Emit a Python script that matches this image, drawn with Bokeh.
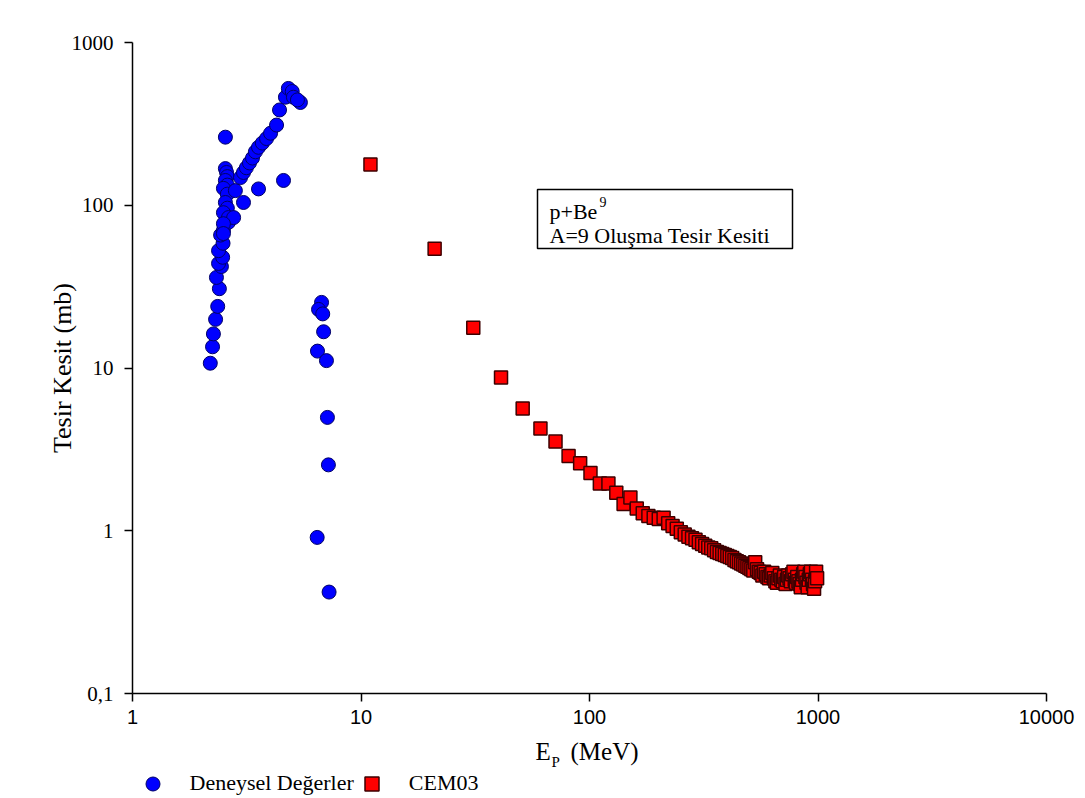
from bokeh.plotting import figure
from bokeh.layouts import column
from bokeh.models import (Range1d, FixedTicker, CustomJSTickFormatter, Label,
                          BoxAnnotation, Legend, LegendItem)
from bokeh.embed import file_html
from bokeh.resources import INLINE

# ---------------- data ----------------
exp_energy = [2.19, 2.24, 2.26, 2.31, 2.36, 2.40, 2.33, 2.45, 2.38, 2.48, 2.38, 2.49, 2.43, 2.50, 2.63,
              2.55, 2.55, 2.58, 2.60, 2.55, 2.60, 2.50, 2.60, 2.82, 2.55, 2.60, 2.50, 2.63, 2.77, 2.50, 2.50,
              3.06, 3.56, 4.58,
              2.97, 3.06, 3.15, 3.25, 3.35, 3.45, 3.56, 3.70, 3.86, 4.02, 4.27,
              4.40, 4.67, 4.81, 5.00, 5.06, 5.43, 5.27,
              6.72, 6.52, 6.80, 6.86, 6.45, 7.06, 7.13, 7.20, 6.43, 7.25]
exp_xs = [10.7, 13.5, 16.2, 19.9, 23.9, 30.7, 36.0, 42.0, 43.9, 47.9, 52.6, 58.4, 65.6, 70.0, 78.6,
          262, 168, 159, 150, 142, 133, 127, 117, 123, 104, 96, 90, 84, 84, 77, 67,
          104, 126, 142,
          148, 159, 170, 182, 195, 213, 227, 241, 257, 277, 311,
          385, 461, 522, 500, 461, 428, 444,
          25.3, 22.9, 21.5, 16.7, 12.7, 11.1, 4.97, 2.54, 0.91, 0.42]

cem_energy = [11, 21, 31, 41, 51, 61, 71, 81, 91, 101,
              111, 121, 131, 141, 151, 161, 171, 181, 191, 201,
              211, 221, 231, 241, 251, 261, 271, 281, 291, 301,
              311, 321, 331, 341, 351, 361, 371, 381, 391, 401,
              411, 421, 431, 441, 451, 461, 471, 481, 491, 501,
              511, 521, 531, 541, 551, 561, 571, 581, 591, 601,
              611, 621, 631, 641, 651, 661, 671, 681, 691, 701,
              711, 721, 731, 741, 751, 761, 771, 781, 791, 801,
              811, 821, 831, 841, 851, 861, 871, 881, 891, 901,
              911, 921, 931, 941, 951, 961, 971, 981, 991]
cem_xs = [178, 54, 17.7, 8.75, 5.64, 4.25, 3.53, 2.88, 2.60, 2.26,
          1.95, 1.95, 1.71, 1.46, 1.60, 1.37, 1.28, 1.23, 1.20, 1.18,
          1.20, 1.11, 1.07, 1.03, 0.98, 0.95, 0.92, 0.90, 0.88, 0.85,
          0.83, 0.81, 0.79, 0.78, 0.76, 0.74, 0.73, 0.72, 0.71, 0.70,
          0.69, 0.68, 0.66, 0.65, 0.64, 0.63, 0.62, 0.61, 0.60, 0.59,
          0.58, 0.57, 0.64, 0.58, 0.56, 0.55, 0.53, 0.56, 0.54, 0.52,
          0.51, 0.53, 0.55, 0.51, 0.49, 0.48, 0.51, 0.53, 0.50, 0.49,
          0.52, 0.47, 0.50, 0.53, 0.51, 0.49, 0.54, 0.56, 0.50, 0.48,
          0.52, 0.49, 0.47, 0.45, 0.50, 0.54, 0.56, 0.52, 0.48, 0.45,
          0.50, 0.54, 0.56, 0.50, 0.47, 0.44, 0.49, 0.56, 0.51]

x_ticks = [1, 10, 100, 1000, 10000]
y_ticks = [0.1, 1, 10, 100, 1000]
series_names = ["Deneysel Değerler", "CEM03"]
y_title = "Tesir Kesit (mb)"
x_title_main, x_title_sub, x_title_unit = "E", "P", "(MeV)"
box_line1, box_sup, box_line2 = "p+Be", "9", "A=9 Oluşma Tesir Kesiti"

# ---------------- layout ----------------
W = 1085
H1, H2 = 734, 64
FL, FT, FW, FH = 132, 42, 914, 651
serif = "Liberation Serif"
blue_style = dict(marker="circle", size=14, fill_color="#0000ff", line_color="#000066", line_width=1)
red_style = dict(marker="square", size=13, fill_color="#ff0000", line_color="#3d0000", line_width=1.5)


def px2x(px):
    return 10 ** ((px - FL) / FW * 4)


def py2y(py):
    return 10 ** (3 - (py - FT) / FH * 4)


p = figure(width=W, height=H1, x_axis_type="log", y_axis_type="log",
           x_range=Range1d(1, 10000), y_range=Range1d(0.1, 1000),
           output_backend="svg", toolbar_location=None,
           min_border_left=FL, min_border_right=W - FL - FW,
           min_border_top=FT, min_border_bottom=H1 - FT - FH)
p.outline_line_color = None
p.xgrid.visible = False
p.ygrid.visible = False
p.background_fill_color = "white"
p.border_fill_color = "white"

fmt = CustomJSTickFormatter(code="return tick < 1 ? tick.toFixed(1).replace('.', ',') : tick.toFixed(0);")

xa = p.xaxis[0]
xa.ticker = FixedTicker(ticks=x_ticks, minor_ticks=[])
xa.formatter = fmt
xa.axis_line_width = 1.5
xa.major_tick_line_width = 1.5
xa.major_tick_out = 8
xa.major_tick_in = 0
xa.major_label_standoff = 8
xa.major_label_text_font = "Liberation Sans"
xa.major_label_text_font_size = "20px"
xa.major_label_text_color = "black"

ya = p.yaxis[0]
ya.ticker = FixedTicker(ticks=y_ticks, minor_ticks=[])
ya.formatter = fmt
ya.axis_line_width = 1.5
ya.major_tick_line_width = 1.5
ya.major_tick_out = 8
ya.major_tick_in = 0
ya.major_label_standoff = 11
ya.major_label_text_font = serif
ya.major_label_text_font_size = "21px"
ya.major_label_text_color = "black"
ya.axis_label = y_title
ya.axis_label_text_font = serif
ya.axis_label_text_font_size = "26px"
ya.axis_label_text_font_style = "normal"
ya.axis_label_text_color = "black"
ya.axis_label_standoff = -8

r1 = p.scatter(exp_energy, exp_xs, **blue_style)
r2 = p.scatter(cem_energy, cem_xs, **red_style)

# annotation box
p.add_layout(BoxAnnotation(left=px2x(537), right=px2x(792), top=py2y(189), bottom=py2y(248),
                           fill_color="white", fill_alpha=1, line_color="black",
                           line_alpha=1, line_width=1.5))
p.add_layout(Label(x=px2x(549), y=py2y(211), text=box_line1, text_font=serif,
                   text_font_size="22px", text_baseline="middle", text_color="black"))
p.add_layout(Label(x=px2x(599), y=py2y(201), text=box_sup, text_font=serif,
                   text_font_size="14px", text_baseline="middle", text_color="black"))
p.add_layout(Label(x=px2x(549), y=py2y(235), text=box_line2, text_font=serif,
                   text_font_size="22px", text_baseline="middle", text_color="black"))

# ---- strip below: x title and legend (frame aligned with the main one) ----
p2 = figure(width=W, height=H2, x_range=Range1d(FL, FL + FW), y_range=Range1d(H2, 0),
            x_axis_location=None, y_axis_location=None,
            output_backend="svg", toolbar_location=None,
            min_border_left=FL, min_border_right=W - FL - FW, min_border_top=0, min_border_bottom=0)
p2.outline_line_color = None
p2.xgrid.visible = False
p2.ygrid.visible = False
p2.background_fill_color = "white"
p2.border_fill_color = "white"

TOP2 = H1  # page y where the strip starts
p2.add_layout(Label(x=535, y=751 - TOP2, text=x_title_main, text_font=serif, text_font_size="25px",
                    text_baseline="middle", text_color="black"))
p2.add_layout(Label(x=551, y=761 - TOP2, text=x_title_sub, text_font=serif, text_font_size="15px",
                    text_baseline="middle", text_color="black"))
p2.add_layout(Label(x=570, y=751 - TOP2, text=x_title_unit, text_font=serif, text_font_size="25px",
                    text_baseline="middle", text_color="black"))

# legend swatches (their single point lies outside this strip's range, only the legend shows)
d1 = p2.scatter(x=exp_energy[:1], y=exp_xs[:1], **blue_style)
d2 = p2.scatter(x=cem_energy[:1], y=cem_xs[:1], **red_style)
legend = Legend(items=[LegendItem(label=series_names[0], renderers=[d1]),
                       LegendItem(label=series_names[1], renderers=[d2])],
                orientation="horizontal", location=(2.5, H2 - (783 - TOP2) - 17.5),
                glyph_width=35, glyph_height=35, label_standoff=20, spacing=-8,
                padding=0, margin=0, border_line_color=None, background_fill_alpha=0,
                label_text_font=serif, label_text_font_size="22px", label_text_color="black")
p2.add_layout(legend)

layout = column(p, p2, spacing=0)
open("out.html", "w").write(file_html(layout, INLINE))
